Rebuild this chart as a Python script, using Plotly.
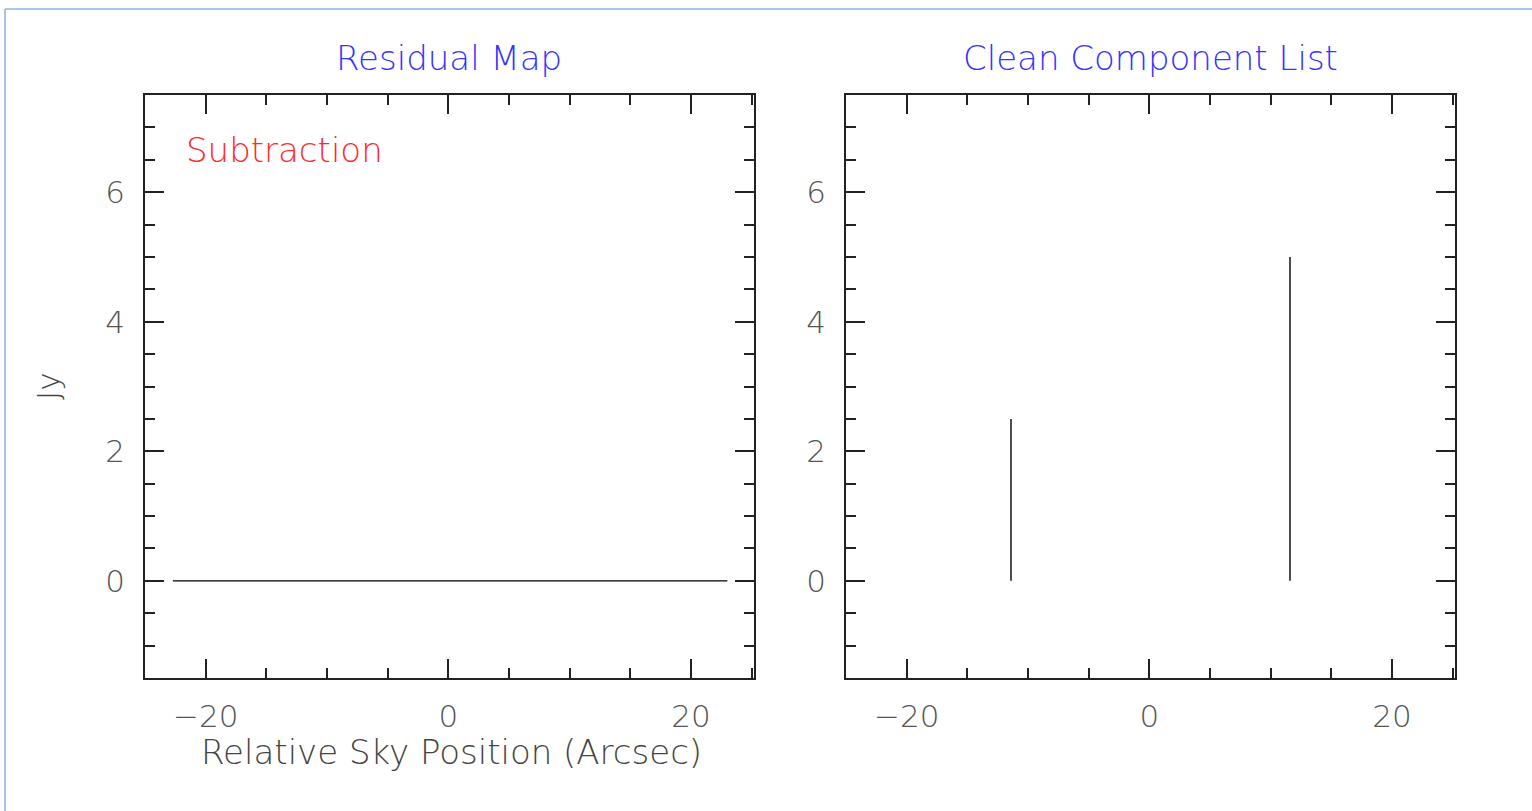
import plotly.graph_objects as go

# ---- data ----
residual_x = [-22.7, 23.0]
residual_y = [0.0, 0.0]

component_x = [-11.4, 11.6]
component_flux = [2.5, 5.0]

x_tick_vals = [-20, 0, 20]
y_tick_vals = [0, 2, 4, 6]

panel_titles = ["Residual Map", "Clean Component List"]
x_title = "Relative Sky Position (Arcsec)"
y_title = "Jy"
note_text = "Subtraction"

W, H = 1532, 811
FONT = "DejaVu Sans"

def px(x):
    return x / W

def py(y):
    return 1 - y / H

fig = go.Figure()

fig.add_trace(go.Scatter(
    x=residual_x, y=residual_y, mode="lines",
    line=dict(color="black", width=1.4),
    xaxis="x", yaxis="y", showlegend=False, hoverinfo="skip"))

cx, cy = [], []
for xv, fv in zip(component_x, component_flux):
    cx += [xv, xv, None]
    cy += [0, fv, None]
fig.add_trace(go.Scatter(
    x=cx, y=cy, mode="lines",
    line=dict(color="black", width=1.4),
    xaxis="x2", yaxis="y2", showlegend=False, hoverinfo="skip"))

tickfont = dict(family=FONT, size=31, color="#555555", weight=200)

def xax(domain, anchor):
    return dict(
        domain=domain, anchor=anchor, range=[-25, 25.2],
        tickmode="array", tickvals=x_tick_vals,
        ticks="inside", ticklen=19, tickwidth=1.6, tickcolor="#222",
        minor=dict(ticks="inside", tickmode="linear", tick0=0, dtick=5,
                   ticklen=10, tickwidth=1.6, tickcolor="#222"),
        showline=True, linecolor="#222", linewidth=1.6, mirror="ticks",
        showgrid=False, zeroline=False, tickfont=tickfont,
        ticklabelstandoff=10, fixedrange=True)

def yax(anchor):
    return dict(
        domain=[py(678), py(95)], anchor=anchor, range=[-1.5, 7.5],
        tickmode="array", tickvals=y_tick_vals,
        ticks="inside", ticklen=19, tickwidth=1.6, tickcolor="#222",
        minor=dict(ticks="inside", tickmode="linear", tick0=0, dtick=0.5,
                   ticklen=10, tickwidth=1.6, tickcolor="#222"),
        showline=True, linecolor="#222", linewidth=1.6, mirror="ticks",
        showgrid=False, zeroline=False, tickfont=tickfont,
        ticklabelstandoff=12, fixedrange=True)

fig.update_layout(
    width=W, height=H,
    margin=dict(l=0, r=0, t=0, b=0),
    paper_bgcolor="white", plot_bgcolor="white",
    xaxis=xax([px(145), px(754)], "y"),
    yaxis=yax("x"),
    xaxis2=xax([px(846), px(1455)], "y2"),
    yaxis2=yax("x2"),
    showlegend=False,
)

title_font = dict(family=FONT, size=34, color="#3434ff", weight=200)
anns = [
    dict(text=panel_titles[0], x=px(449), y=py(58), xanchor="center", yanchor="middle",
         font=title_font),
    dict(text=panel_titles[1], x=px(1150), y=py(58), xanchor="center", yanchor="middle",
         font=title_font),
    dict(text=note_text, x=px(184), y=py(150), xanchor="left", yanchor="middle",
         font=dict(family=FONT, size=34, color="#ff2a2a", weight=200)),
    dict(text=x_title, x=px(451), y=py(752), xanchor="center", yanchor="middle",
         font=dict(family=FONT, size=34, color="#444444", weight=200)),
    dict(text=y_title, x=px(48), y=py(386), xanchor="center", yanchor="middle",
         textangle=-90, font=dict(family=FONT, size=31, color="#444444", weight=200)),
]
for a in anns:
    a.update(xref="paper", yref="paper", showarrow=False)
fig.update_layout(annotations=anns)

frame_col = "#8fb2e3"
fig.add_shape(type="line", xref="paper", yref="paper",
              x0=px(5), x1=px(5), y0=-0.1, y1=py(9), line=dict(color=frame_col, width=1.5))
fig.add_shape(type="line", xref="paper", yref="paper",
              x0=px(5), x1=1.1, y0=py(9), y1=py(9), line=dict(color=frame_col, width=1.5))

fig.write_html("out.html", config={"displayModeBar": False})
